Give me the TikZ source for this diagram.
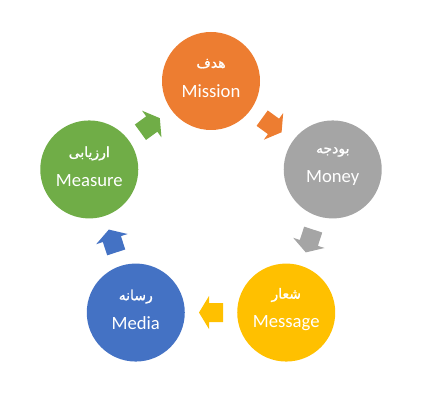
\documentclass[tikz,border=0pt]{standalone}
\usepackage{fontspec}
\setmainfont{Carlito}
\newfontfamily\arabicfont[Script=Arabic,FakeBold=1.2]{DejaVu Sans}
\TeXXeTstate=1
\usetikzlibrary{calc}
\definecolor{orangeC}{HTML}{ED7D31}
\definecolor{grayC}{HTML}{A5A5A5}
\definecolor{yellowC}{HTML}{FFC000}
\definecolor{blueC}{HTML}{4472C4}
\definecolor{greenC}{HTML}{70AD47}
\newcommand{\fa}[1]{{\arabicfont\fontsize{10.5}{12}\selectfont\beginR #1\endR}}
\tikzset{
  stage/.style={circle, minimum size=73.5pt, inner sep=0pt},
  stagetext/.style={text=white, align=center, inner sep=0pt, yshift=2.2pt,
    font=\fontsize{14}{16}\selectfont},
  pics/cyclearrow/.style={code={
    \fill[#1] (-12,-9.5) -- (2,-9.5) -- (2,-16.5) -- (12,0) -- (2,16.5) -- (2,9.5) -- (-12,9.5) -- cycle;}}
}
\begin{document}
\begin{tikzpicture}[x=0.75pt,y=0.75pt]
\useasboundingbox (0,0) rectangle (424,413);
\coordinate (c) at (211,204);
\node[stage, fill=orangeC, label={[stagetext]center:\fa{هدف}\\[6pt]Mission}] (mission) at ($(c)+(90:128)$) {};
\node[stage, fill=grayC, label={[stagetext]center:\fa{بودجه}\\[6pt]Money}] (money) at ($(c)+(18:128)$) {};
\node[stage, fill=yellowC, label={[stagetext]center:\fa{شعار}\\[6pt]Message}] (message) at ($(c)+(-54:128)$) {};
\node[stage, fill=blueC, label={[stagetext]center:\fa{رسانه}\\[6pt]Media}] (media) at ($(c)+(-126:128)$) {};
\node[stage, fill=greenC, label={[stagetext]center:\fa{ارزیابی}\\[6pt]Measure}] (measure) at ($(c)+(162:128)$) {};
\pic[rotate=-36] at ($(mission.center)!0.5!(money.center)$) {cyclearrow=orangeC};
\pic[rotate=-108] at ($(money.center)!0.5!(message.center)$) {cyclearrow=grayC};
\pic[rotate=180] at ($(message.center)!0.5!(media.center)$) {cyclearrow=yellowC};
\pic[rotate=108] at ($(media.center)!0.5!(measure.center)$) {cyclearrow=blueC};
\pic[rotate=36] at ($(measure.center)!0.5!(mission.center)$) {cyclearrow=greenC};
\end{tikzpicture}
\end{document}
